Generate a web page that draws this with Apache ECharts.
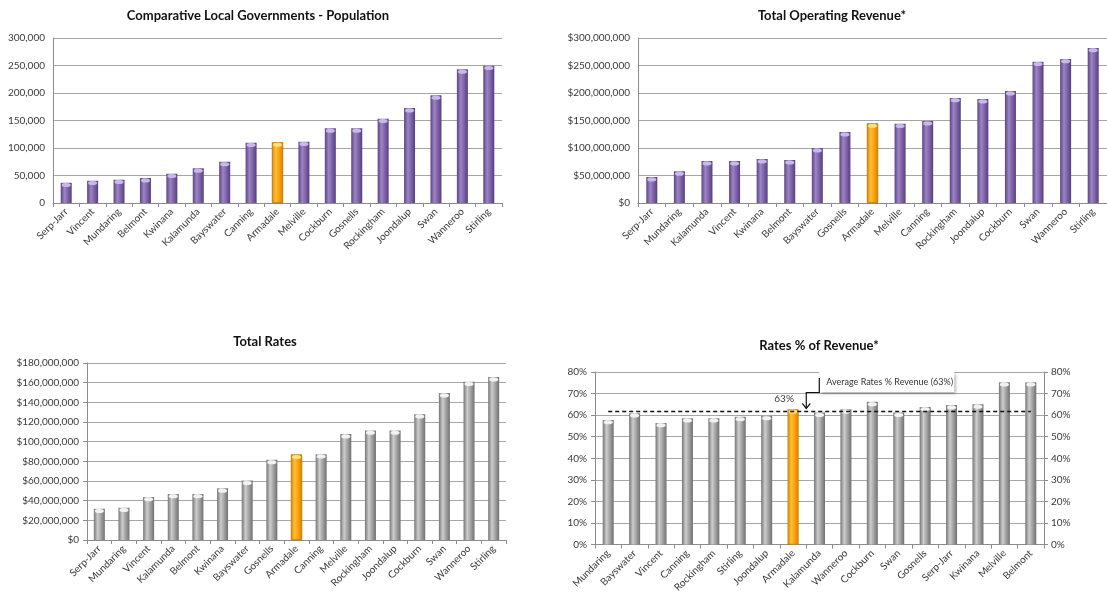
<!DOCTYPE html>
<html><head><meta charset="utf-8">
<script src="https://cdn.jsdelivr.net/npm/echarts@6/dist/echarts.min.js"></script>
<style>html,body{margin:0;padding:0;background:#fff;overflow:hidden}#c{width:1107px;height:595px}</style>
</head><body><div id="c"></div>
<script>
// ---------- DATA ----------
const highlight = 'Armadale';

const popTitle = 'Comparative Local Governments - Population';
const popCats = ['Serp-Jarr','Vincent','Mundaring','Belmont','Kwinana','Kalamunda','Bayswater','Canning','Armadale','Melville','Cockburn','Gosnells','Rockingham','Joondalup','Swan','Wanneroo','Stirling'];
const popVals = [37000,40600,42400,45500,53300,63000,75000,109700,110300,111500,135800,135800,153300,172700,195800,243000,249700];

const revTitle = 'Total Operating Revenue*';
const revCats = ['Serp-Jarr','Mundaring','Kalamunda','Vincent','Kwinana','Belmont','Bayswater','Gosnells','Armadale','Melville','Canning','Rockingham','Joondalup','Cockburn','Swan','Wanneroo','Stirling'];
const revVals = [47300000,57600000,76400000,76400000,80000000,78200000,100000000,129000000,144800000,144200000,149000000,191000000,189000000,203600000,257000000,262000000,282000000];

const ratesTitle = 'Total Rates';
const ratesCats = ['Serp-Jarr','Mundaring','Vincent','Kalamunda','Belmont','Kwinana','Bayswater','Gosnells','Armadale','Canning','Melville','Rockingham','Joondalup','Cockburn','Swan','Wanneroo','Stirling'];
const ratesVals = [31900000,32900000,43800000,46900000,46900000,52600000,60500000,81500000,86900000,87300000,107700000,111400000,111400000,128000000,149400000,161000000,165700000];

const pctTitle = 'Rates % of Revenue*';
const pctCats = ['Mundaring','Bayswater','Vincent','Canning','Rockingham','Stirling','Joondalup','Armadale','Kalamunda','Wanneroo','Cockburn','Swan','Gosnells','Serp-Jarr','Kwinana','Melville','Belmont'];
const pctVals = [57.8,60.9,56.4,58.6,58.6,59.2,59.7,62.7,61.2,62.7,66.2,61.2,63.8,64.7,65.0,75.3,75.3];
const pctAvgLine = 61.7;
const pctAvgText = 'Average Rates % Revenue (63%)';

const popTicks = {min:0, max:300000, interval:50000};
const revTicks = {min:0, max:300000000, interval:50000000};
const ratesTicks = {min:0, max:180000000, interval:20000000};
const pctTicks = {min:0, max:80, interval:10};

// ---------- STYLE ----------
const FONT = 'Lato, "Open Sans", sans-serif';
function grad(c){ return new echarts.graphic.LinearGradient(0,0,1,0,[
  {offset:0,color:c[0]},{offset:0.35,color:c[1]},{offset:0.6,color:c[2]},{offset:1,color:c[3]}]); }
const PURPLE = ['#5b4483','#9c85c4','#8468ad','#563f7e'];
const GRAY = ['#767676','#cdcdcd','#a9a9a9','#707070'];
const ORANGE = ['#e08a00','#ffbf3a','#ffa40f','#d98200'];
const capColor = {purple:'#c9b8ea', gray:'#f2f2f2', orange:'#ffe27a'};

const fmtComma = v => v.toLocaleString('en-US');
const fmtDollar = v => '$' + v.toLocaleString('en-US');
const fmtPct = v => v + '%';

const grids = [
  {left:53, top:38, width:449, height:165},
  {left:638, top:38, width:472, height:165},
  {left:87, top:363, width:419, height:177},
  {left:595, top:372, width:449, height:175}
];

function xAxis(idx, cats, extra){
  return Object.assign({
    type:'category', gridIndex:idx, data:cats,
    axisLine:{lineStyle:{color:'#8c8c8c', width:1}},
    axisTick:{show:true, length:4, lineStyle:{color:'#8c8c8c'}},
    axisLabel:{rotate:45, fontSize:10, color:'#3a3a3a', fontFamily:FONT, margin:7, interval:0}
  }, extra||{});
}
function yAxis(idx, t, fmt, extra){
  return Object.assign({
    type:'value', gridIndex:idx, min:t.min, max:t.max, interval:t.interval,
    axisLine:{show:true, lineStyle:{color:'#8c8c8c'}},
    axisTick:{show:true, length:4, lineStyle:{color:'#8c8c8c'}},
    splitLine:{lineStyle:{color:'#a6a6a6', width:1}},
    axisLabel:{formatter:fmt, fontSize:10, color:'#3a3a3a', fontFamily:FONT, margin:8}
  }, extra||{});
}
function barSeries(idx, cats, vals, base, yIdx){
  return {
    type:'bar', xAxisIndex:idx, yAxisIndex:yIdx, barWidth:11, z:2,
    data: vals.map((v,i)=> cats[i]===highlight
      ? {value:v, itemStyle:{color:grad(ORANGE), borderColor:'#c87600', borderWidth:0.6}}
      : {value:v}),
    itemStyle:{color:grad(base==='purple'?PURPLE:GRAY)}
  };
}
function capSeries(idx, cats, vals, base, yIdx){
  return {
    type:'pictorialBar', xAxisIndex:idx, yAxisIndex:yIdx, symbol:'circle', symbolSize:[9,4],
    symbolPosition:'end', symbolOffset:[0,'10%'], z:3, silent:true,
    data: vals.map((v,i)=>({value:v, itemStyle:{color: cats[i]===highlight ? capColor.orange : capColor[base]}}))
  };
}

const chart = echarts.init(document.getElementById('c'), null, {renderer:'canvas'});

const pctBar = barSeries(3, pctCats, pctVals, 'gray', 3);
pctBar.data = pctBar.data.map((d,i)=> pctCats[i]===highlight
  ? Object.assign({}, d, {label:{show:true, position:'top', offset:[-9,-1], formatter:p=>Math.round(p.value)+'%', fontSize:10, color:'#3a3a3a', fontFamily:FONT}})
  : d);
pctBar.markLine = {
  silent:true, symbol:'none', label:{show:false},
  lineStyle:{color:'#111', type:[4,3], width:1.3},
  data:[[{coord:[pctCats[0], pctAvgLine]}, {coord:[pctCats[pctCats.length-1], pctAvgLine]}]]
};

chart.setOption({
  animation:false,
  backgroundColor:'#fff',
  textStyle:{fontFamily:FONT},
  grid: grids,
  xAxis:[ xAxis(0,popCats), xAxis(1,revCats), xAxis(2,ratesCats), xAxis(3,pctCats) ],
  yAxis:[
    yAxis(0,popTicks,fmtComma, {axisTick:{show:false}}),
    yAxis(1,revTicks,fmtDollar, {axisTick:{show:false}}),
    yAxis(2,ratesTicks,fmtDollar),
    yAxis(3,pctTicks,fmtPct),
    yAxis(3,pctTicks,fmtPct,{position:'right', splitLine:{show:false}, axisLabel:{formatter:fmtPct, fontSize:10, color:'#3a3a3a', fontFamily:FONT, margin:7}})
  ],
  series:[
    barSeries(0,popCats,popVals,'purple',0), capSeries(0,popCats,popVals,'purple',0),
    barSeries(1,revCats,revVals,'purple',1), capSeries(1,revCats,revVals,'purple',1),
    barSeries(2,ratesCats,ratesVals,'gray',2), capSeries(2,ratesCats,ratesVals,'gray',2),
    pctBar, capSeries(3,pctCats,pctVals,'gray',3)
  ]
});

// annotation / titles
const ax = chart.convertToPixel({xAxisIndex:3}, highlight);
const axNext = chart.convertToPixel({xAxisIndex:3}, pctCats[pctCats.indexOf(highlight)+1]);
const ay = chart.convertToPixel({yAxisIndex:3}, pctAvgLine);
const arrowX = (ax + axNext)/2;
const tipY = ay - 3;
const boxX = arrowX + 13, boxY = 372, boxW = 135, boxH = 20;

function title(text, x, y){
  return {type:'text', x:x, y:y, style:{text:text, fill:'#111', font:'bold 13px '+FONT, textAlign:'center', textVerticalAlign:'middle'}, z:10};
}
chart.setOption({
  graphic:[
    title(popTitle, 258, 16),
    title(revTitle, 832, 16),
    title(ratesTitle, 265, 342),
    title(pctTitle, 819, 346),
    {type:'rect', shape:{x:boxX, y:boxY, width:boxW, height:boxH}, style:{fill:'#fff', shadowBlur:3, shadowOffsetX:1.5, shadowOffsetY:1.5, shadowColor:'rgba(0,0,0,0.35)'}, z:20},
    {type:'text', x:boxX+7, y:boxY+boxH/2, style:{text:pctAvgText, fill:'#333', font:'9px '+FONT, textVerticalAlign:'middle'}, z:21},
    {type:'polyline', shape:{points:[[boxX, boxY+6],[boxX, tipY-16],[arrowX, tipY-16],[arrowX, tipY]]}, style:{stroke:'#111', lineWidth:1.2, fill:null}, z:21},
    {type:'polyline', shape:{points:[[arrowX-4, tipY-5],[arrowX, tipY],[arrowX+4, tipY-5]]}, style:{stroke:'#111', lineWidth:1.2, fill:null}, z:21}
  ]
});
</script>
</body></html>
